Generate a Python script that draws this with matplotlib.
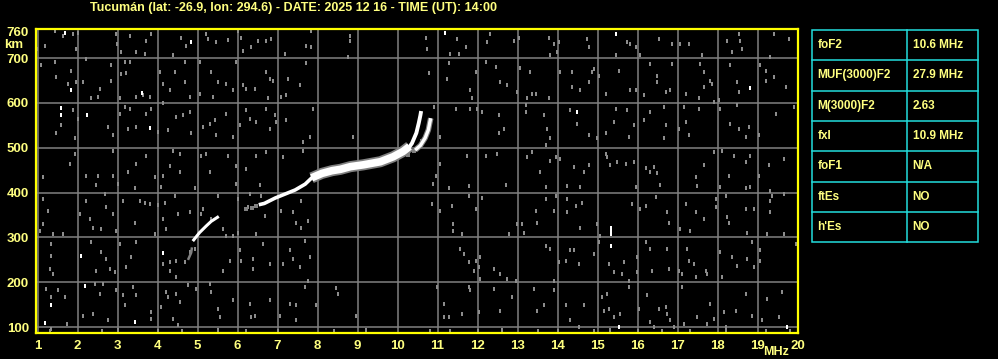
import numpy as np
import matplotlib
matplotlib.use('Agg')
import matplotlib.pyplot as plt
from matplotlib.patches import Rectangle

plt.rcParams['font.family'] = ['Liberation Sans', 'DejaVu Sans']
plt.rcParams['font.weight'] = 'bold'

title = 'Tucumán (lat: -26.9, lon: 294.6) - DATE: 2025 12 16 - TIME (UT): 14:00'

freq_ticks = list(range(1, 21))
height_ticks = [100, 200, 300, 400, 500, 600, 700, 760]

params = ['foF2', 'MUF(3000)F2', 'M(3000)F2', 'fxI', 'foF1', 'ftEs', "h'Es"]
values = ['10.6 MHz', '27.9 MHz', '2.63', '10.9 MHz', 'N/A', 'NO', 'NO']

# echo traces (MHz, km)
o_low = [(4.88, 292), (5.05, 311), (5.22, 326), (5.34, 336), (5.53, 347)]
o_low_faint = [(4.76, 250), (4.80, 258), (4.84, 266), (4.86, 278)]
o_thin = [(6.53, 373), (6.67, 376), (6.94, 388), (7.19, 397), (7.44, 406), (7.69, 419), (7.89, 436)]
o_thick = [(7.85, 433), (8.11, 443), (8.36, 449), (8.57, 452), (8.82, 458), (9.14, 462),
           (9.57, 469), (9.89, 480), (10.14, 492), (10.30, 503)]
o_top = [(10.28, 500), (10.36, 510), (10.47, 533), (10.53, 555), (10.57, 572), (10.59, 582)]
x_trace = [(10.44, 495), (10.57, 505), (10.69, 522), (10.77, 540), (10.81, 558), (10.83, 566)]
trace_faint = [(6.22, 364), (6.47, 370), (6.35, 366), (10.25, 485), (10.40, 492), (10.62, 515)]

# scattered noise echoes (MHz, km)
noise = [
    (1.43, 761), (1.64, 750), (1.89, 754), (2.01, 756), (1.18, 728), (0.99, 720), (1.95, 720),
    (2.97, 754), (2.99, 732), (3.09, 713), (3.30, 750), (3.47, 713), (3.68, 709), (3.84, 754),
    (3.72, 739), (4.59, 746), (4.72, 728), (4.39, 707), (5.22, 754), (5.26, 743), (5.47, 737),
    (5.76, 741), (6.01, 761), (6.09, 746), (6.14, 717), (6.34, 724), (6.51, 739), (6.72, 739),
    (6.84, 743), (7.18, 709), (7.72, 728), (7.84, 724), (7.84, 761), (8.80, 750), (8.80, 739),
    (8.76, 702),
    (1.09, 684), (1.43, 692), (1.47, 658), (1.76, 643), (1.84, 672), (1.97, 647), (2.14, 647),
    (2.22, 698), (2.34, 610), (2.51, 613), (2.55, 632), (2.84, 684), (2.84, 650), (3.05, 610),
    (3.09, 665), (3.18, 691), (3.22, 667), (3.30, 691), (3.47, 613), (3.64, 617), (3.80, 613),
    (4.05, 669), (4.14, 643), (4.30, 628), (4.43, 669), (4.68, 691), (4.68, 647), (4.80, 613),
    (5.05, 691), (5.05, 621), (5.34, 669), (5.39, 613), (5.51, 647), (5.72, 643), (5.89, 628),
    (5.97, 691), (6.14, 639), (6.22, 632), (6.43, 632), (6.72, 669), (6.80, 654), (6.89, 650),
    (6.76, 610), (7.09, 613), (7.22, 617), (7.26, 654), (7.55, 639), (7.72, 689),
    (1.89, 584), (2.01, 565), (1.93, 521), (1.59, 550), (1.47, 532), (2.76, 547), (2.89, 528),
    (3.05, 576), (3.18, 591), (3.30, 587), (3.26, 543), (3.47, 547), (3.72, 576), (3.84, 587),
    (4.01, 536), (4.14, 599), (4.26, 539), (4.47, 569), (4.64, 573), (4.80, 580), (4.84, 532),
    (5.14, 547), (5.30, 554), (5.43, 561), (5.47, 528), (5.72, 576), (5.89, 524), (6.05, 550),
    (6.22, 584), (6.30, 565), (6.47, 558), (6.72, 587), (6.80, 543), (6.93, 573), (6.97, 558),
    (7.22, 561), (7.89, 587), (7.64, 513), (7.80, 524), (8.89, 524),
    (1.14, 434), (1.80, 464), (1.93, 486), (2.22, 438), (2.51, 438), (2.89, 438), (2.89, 494),
    (3.26, 445), (3.47, 464), (3.72, 482), (3.93, 434), (4.14, 438), (4.39, 494), (4.55, 486),
    (4.30, 460), (4.55, 445), (5.09, 482), (5.22, 486), (5.30, 445), (5.76, 482), (5.97, 460),
    (6.22, 453), (6.47, 482), (6.72, 490), (7.14, 479), (7.64, 494),
    (10.70, 746), (10.74, 720), (11.32, 709), (11.49, 743), (11.53, 709), (11.70, 724),
    (12.32, 754), (12.24, 735), (12.91, 739), (13.03, 746), (13.78, 746), (13.82, 706),
    (13.91, 732), (14.03, 735), (13.99, 713), (14.74, 743), (14.78, 724), (15.45, 706),
    (15.74, 735), (15.82, 732), (15.95, 724), (16.07, 706), (16.53, 743), (16.87, 732),
    (17.07, 732), (17.28, 732), (17.62, 706), (18.24, 739), (18.37, 713), (18.53, 754),
    (18.57, 739), (18.62, 720), (19.41, 754), (19.78, 743), (19.32, 702),
    (10.78, 667), (11.24, 654), (11.28, 689), (11.82, 628), (11.87, 610), (11.95, 669),
    (12.20, 691), (12.45, 680), (12.57, 647), (12.74, 639), (12.99, 624), (13.07, 678),
    (13.32, 669), (13.37, 621), (13.45, 621), (13.24, 610), (13.78, 610), (14.07, 669),
    (14.37, 669), (14.37, 636), (14.57, 628), (14.78, 647), (14.87, 669), (14.91, 676),
    (15.03, 661), (15.20, 621), (15.53, 672), (15.82, 630), (15.95, 628), (16.16, 617),
    (16.32, 687), (16.49, 661), (16.49, 647), (16.70, 624), (16.87, 687), (16.82, 628),
    (17.20, 621), (17.57, 687), (17.66, 669), (17.82, 650), (17.87, 643), (17.66, 636),
    (17.53, 610), (17.91, 602), (18.03, 606), (18.32, 684), (18.49, 647), (18.53, 624),
    (19.20, 672), (19.20, 650), (19.41, 658), (19.70, 636), (19.07, 684),
    (10.91, 591), (11.07, 524), (11.45, 587), (11.82, 587), (11.99, 587), (12.12, 580),
    (12.53, 573), (12.53, 532), (12.66, 543), (13.20, 595), (13.20, 580), (13.66, 573),
    (13.74, 543), (13.82, 521), (13.70, 506), (14.32, 584), (14.49, 554), (14.78, 528),
    (14.99, 521), (15.20, 532), (15.45, 587), (15.41, 558), (15.74, 584), (15.78, 524),
    (15.91, 550), (16.16, 561), (16.32, 580), (16.66, 591), (16.70, 550), (16.66, 521),
    (17.03, 543), (17.16, 591), (17.20, 558), (17.28, 528), (17.53, 587), (18.07, 587),
    (18.32, 554), (18.49, 595), (18.53, 543), (18.70, 524), (18.78, 547), (19.03, 528),
    (19.45, 576), (19.91, 591),
    (10.95, 438), (11.07, 464), (11.74, 482), (12.20, 482), (12.49, 486), (13.24, 479),
    (13.37, 490), (13.57, 445), (13.82, 471), (13.95, 479), (14.07, 475), (14.41, 458),
    (14.66, 447), (14.78, 462), (15.20, 486), (15.24, 479), (15.32, 462), (15.49, 469),
    (15.70, 465), (15.91, 469), (16.20, 454), (16.32, 447), (16.41, 458), (16.49, 443),
    (17.45, 436), (17.66, 462), (17.91, 490), (18.12, 494), (18.28, 438), (18.41, 482),
    (18.70, 469), (18.82, 482), (19.03, 438), (19.28, 462), (19.66, 475),
    (2.47, 417), (3.01, 419), (3.43, 410), (4.09, 413), (4.93, 410), (5.97, 420), (6.55, 417),
    (1.14, 385), (1.26, 359), (1.14, 330), (1.05, 315), (1.39, 308), (1.64, 308), (2.05, 352),
    (2.22, 382), (2.30, 341), (2.39, 322), (2.59, 319), (2.68, 396), (2.72, 367), (2.89, 352),
    (2.97, 315), (3.14, 382), (3.43, 333), (3.55, 382), (3.68, 378), (3.80, 374), (3.93, 308),
    (4.01, 373), (4.18, 378), (4.14, 341), (4.22, 319), (4.43, 393), (4.51, 352), (4.80, 356),
    (5.09, 352), (5.14, 363), (5.34, 341), (5.51, 393), (5.64, 319), (5.72, 304), (5.89, 304),
    (6.01, 385), (6.01, 311), (6.26, 367), (6.30, 396), (6.47, 308), (6.59, 393), (6.68, 348),
    (7.09, 359), (7.39, 356), (7.47, 333), (7.59, 322), (7.59, 382), (7.76, 337),
    (1.34, 285), (1.34, 259), (1.30, 230), (1.39, 219), (2.34, 289), (2.47, 226), (2.59, 267),
    (2.72, 252), (2.80, 230), (2.93, 222), (3.05, 285), (3.22, 234), (3.34, 256), (3.47, 289),
    (4.14, 241), (4.30, 245), (4.30, 226), (4.47, 248), (4.47, 211), (4.68, 245), (4.80, 267),
    (4.93, 274), (5.64, 226), (5.80, 248), (6.05, 271), (6.09, 248), (6.39, 252), (6.39, 230),
    (6.64, 285), (6.80, 241), (7.14, 241), (7.30, 271), (7.39, 252), (7.55, 234), (7.68, 293),
    (7.76, 204), (7.80, 257),
    (1.22, 185), (1.34, 167), (1.51, 182), (1.68, 167), (2.43, 197), (2.55, 174), (2.64, 197),
    (2.76, 115), (2.97, 182), (3.14, 171), (3.18, 149), (3.39, 189), (3.47, 171), (3.84, 134),
    (3.84, 119), (4.09, 145), (4.22, 178), (4.26, 167), (4.39, 119), (4.47, 174), (4.55, 156),
    (4.51, 104), (4.76, 193), (4.97, 186), (5.30, 197), (5.34, 178), (5.51, 141), (5.55, 123),
    (5.89, 160), (6.30, 152), (6.34, 123), (6.43, 126), (6.80, 160), (7.05, 126), (7.30, 152),
    (7.47, 149), (7.47, 115), (7.68, 189), (7.97, 149), (8.47, 188), (8.51, 174), (8.97, 126),
    (1.74, 108), (1.34, 97), (2.39, 130), (2.14, 126),
    (10.89, 419), (11.28, 410), (11.78, 415), (12.70, 417), (13.70, 413), (14.24, 415),
    (14.57, 413), (15.95, 413), (16.57, 417), (17.49, 415), (18.07, 413), (18.70, 410),
    (18.82, 413), (19.32, 404),
    (10.87, 374), (11.07, 359), (11.37, 370), (11.39, 330), (11.39, 315), (11.62, 308),
    (11.78, 393), (11.95, 363), (12.12, 389), (12.78, 308), (12.99, 330), (13.12, 330),
    (13.16, 311), (13.45, 359), (13.49, 333), (13.70, 385), (13.91, 359), (13.95, 393),
    (14.24, 385), (14.24, 356), (14.45, 370), (14.57, 322), (14.62, 378), (14.99, 330),
    (15.07, 304), (15.87, 374), (16.07, 363), (16.20, 370), (16.45, 390), (16.74, 356),
    (16.78, 333), (17.07, 319), (17.20, 374), (17.32, 315), (17.45, 356), (17.66, 341),
    (17.95, 385), (17.95, 367), (18.20, 393), (18.24, 345), (18.28, 333), (18.74, 311),
    (18.70, 363), (18.91, 363), (19.24, 308), (19.32, 382), (19.32, 356), (19.37, 393),
    (19.66, 396), (19.66, 308),
    (11.57, 274), (11.66, 263), (11.78, 245), (11.91, 226), (11.95, 248), (12.03, 234),
    (12.07, 256), (12.07, 208), (12.41, 230), (12.57, 219), (12.74, 208), (12.95, 204),
    (13.70, 282), (13.82, 274), (13.91, 204), (14.03, 245), (14.20, 248), (14.32, 271),
    (14.41, 271), (14.53, 241), (14.91, 263), (15.03, 289), (15.28, 241), (15.41, 222),
    (15.62, 219), (15.66, 245), (15.78, 204), (15.99, 256), (15.99, 222), (16.20, 289),
    (16.32, 274), (16.37, 226), (16.74, 274), (16.78, 230), (17.03, 226), (17.12, 219),
    (17.24, 274), (17.28, 248), (17.41, 241), (17.45, 211), (17.70, 226), (17.74, 219),
    (18.07, 267), (18.12, 211), (18.37, 256), (18.49, 237), (18.74, 252), (18.87, 289),
    (18.91, 234), (19.07, 271), (19.07, 248), (19.95, 285),
    (10.99, 189), (11.16, 152), (11.16, 123), (11.28, 123), (11.62, 130), (11.78, 189),
    (11.82, 182), (12.03, 134), (12.41, 185), (12.57, 137), (12.87, 167), (13.41, 185),
    (13.49, 137), (13.66, 149), (13.91, 182), (14.20, 149), (14.32, 115), (14.53, 100),
    (14.66, 149), (15.12, 167), (15.24, 174), (15.16, 137), (15.28, 141), (15.41, 123),
    (15.57, 130), (15.78, 189), (16.03, 141), (16.24, 171), (16.32, 111), (16.41, 100),
    (16.53, 141), (16.70, 145), (16.74, 130), (16.82, 115), (16.91, 100), (17.12, 189),
    (17.16, 108), (17.49, 123), (17.74, 108), (17.82, 152), (17.91, 119), (18.16, 134),
    (18.20, 100), (18.45, 137), (18.70, 174), (18.87, 126), (19.12, 115), (19.24, 163),
    (19.53, 123), (19.62, 178),
    (1.30, 92), (2.60, 91), (3.00, 93), (4.00, 92), (4.60, 91), (5.50, 93), (6.20, 92),
    (7.00, 91), (8.40, 92), (9.20, 93), (10.80, 91), (11.30, 92), (12.00, 91), (12.60, 93),
    (13.50, 92), (14.00, 91), (14.90, 92), (15.30, 93), (16.00, 91), (16.60, 92), (17.30, 91),
    (18.20, 93), (19.20, 92), (19.80, 91),
]
noise_white = [
    (1.69, 756), (4.84, 737), (1.84, 630), (3.60, 622), (1.59, 589), (1.59, 574), (2.24, 574),
    (3.80, 545), (11.18, 756), (15.45, 754), (18.82, 634), (14.49, 581), (2.09, 259),
    (4.14, 266), (1.34, 150), (2.19, 191), (3.43, 112), (1.18, 109), (15.34, 308),
    (15.34, 315), (15.34, 322), (15.34, 281), (15.53, 100), (19.74, 100),
]

yellow = '#ffff00'
text_col = '#ffff80'
grey = '#808080'
cyan = '#22dddd'

fig = plt.figure(figsize=(9.98, 3.59), dpi=100, facecolor='black')
W, H = 998, 359

ax = fig.add_axes([36 / W, (H - 333) / H, (797.5 - 36) / W, (333 - 29) / H])
ax.set_facecolor('black')
ax.set_xlim(0.96, 20.0)
ax.set_ylim(87, 765)

for f in freq_ticks[:-1]:
    ax.axvline(f, color=grey, lw=1.1, zorder=1)
for h in height_ticks[:-1]:
    ax.axhline(h, color=grey, lw=1.1, zorder=1)

dash = [(-1, -1.6), (1, -1.6), (1, 1.6), (-1, 1.6)]
nf, nh = zip(*noise)
ax.plot(nf, nh, ls='none', marker=dash, ms=2.6, mew=0, color='#8c8c8c', zorder=2)
wf, wh = zip(*noise_white)
ax.plot(wf, wh, ls='none', marker=dash, ms=2.6, mew=0, color='white', zorder=3)

def trace(pts, lw, col='white', z=4):
    f, h = zip(*pts)
    ax.plot(f, h, color=col, lw=lw, solid_capstyle='butt', zorder=z)

trace(o_low_faint, 1.8, grey)
tf, th = zip(*trace_faint)
ax.plot(tf, th, ls='none', marker='s', ms=2.4, mew=0, color=grey, zorder=3)
trace(o_low, 2.2)
trace(o_thin, 2.6)
trace(o_thick, 8.0, grey, 3)
trace(o_thick, 5.5)
trace(o_top, 2.8)
trace(x_trace, 4.0, grey, 3)
trace(x_trace, 2.4)

for s in ax.spines.values():
    s.set_color(yellow)
    s.set_linewidth(1.6)
ax.set_xticks(freq_ticks)
ax.set_yticks(height_ticks)
ax.tick_params(length=0, colors=text_col, labelsize=9.5, pad=5)
for lab in ax.get_xticklabels() + ax.get_yticklabels():
    lab.set_fontweight('bold')

fig.text(294 / W, 1 - 7.5 / H, title, color=text_col, fontsize=9, fontweight='bold',
         ha='center', va='center')
fig.text(14 / W, 1 - 45 / H, 'km', color=text_col, fontsize=9.5, fontweight='bold',
         ha='center', va='center')
fig.text(776 / W, 1 - 352 / H, 'MHz', color=text_col, fontsize=9, fontweight='bold',
         ha='center', va='center')

# parameter table
tx0, tx1, ty0, ty1, tcol = 812.3, 977.7, 30, 242.3, 907.3
tab = fig.add_axes([0, 0, 1, 1], facecolor='none')
tab.set_xlim(0, W)
tab.set_ylim(H, 0)
tab.axis('off')
tab.add_patch(Rectangle((tx0, ty0), tx1 - tx0, ty1 - ty0, fill=False, ec=cyan, lw=1.1))
tab.plot([tcol, tcol], [ty0, ty1], color=cyan, lw=1.1)
rh = (ty1 - ty0) / len(params)
for i, (p, v) in enumerate(zip(params, values)):
    yc = ty0 + rh * (i + 0.5)
    if i > 0:
        tab.plot([tx0, tx1], [ty0 + rh * i, ty0 + rh * i], color=cyan, lw=1.1)
    tab.text(817.3, yc, p, color=text_col, fontsize=8.5, fontweight='bold', va='center')
    tab.text(912.7, yc, v, color=text_col, fontsize=8.5, fontweight='bold', va='center')

fig.savefig('out.png', dpi=100, facecolor='black')
